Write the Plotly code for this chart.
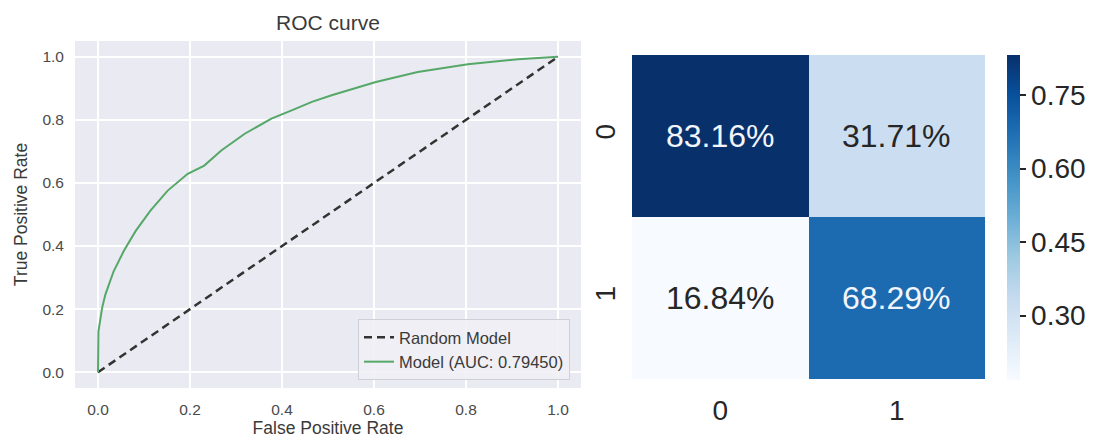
import plotly.graph_objects as go

# ROC curve points (false positive rate vs. true positive rate)
fpr = [0.0, 0.0, 0.001, 0.009, 0.016, 0.034, 0.056, 0.082, 0.114, 0.151, 0.195,
       0.231, 0.268, 0.319, 0.377, 0.421, 0.465, 0.508, 0.604, 0.695, 0.804, 0.913, 1.0]
tpr = [0.0, 0.06, 0.13, 0.204, 0.246, 0.32, 0.384, 0.448, 0.512, 0.575, 0.629,
       0.655, 0.703, 0.756, 0.804, 0.830, 0.857, 0.878, 0.920, 0.952, 0.976, 0.992, 1.0]
chance_x = [0.0, 1.0]
chance_y = [0.0, 1.0]
auc_label = "Model (AUC: 0.79450)"

# Normalised confusion matrix (rows: 0, 1; columns: 0, 1)
cm_labels = ["0", "1"]
cm_values = [[0.8316, 0.3171],
             [0.1684, 0.6829]]
cbar_ticks = [0.30, 0.45, 0.60, 0.75]

blues = ['rgb(247,251,255)', 'rgb(222,235,247)', 'rgb(198,219,239)', 'rgb(158,202,225)',
         'rgb(107,174,214)', 'rgb(66,146,198)', 'rgb(33,113,181)', 'rgb(8,81,156)',
         'rgb(8,48,107)']
blues_scale = [[i / (len(blues) - 1), c] for i, c in enumerate(blues)]

FONT = "Liberation Sans, Arial, sans-serif"
W, H = 1104, 443

fig = go.Figure()

fig.add_trace(go.Scatter(
    x=chance_x, y=chance_y, mode="lines", name="Random Model",
    line=dict(color="#333333", width=2.5, dash="8px,5px"),
    xaxis="x", yaxis="y"))
fig.add_trace(go.Scatter(
    x=fpr, y=tpr, mode="lines", name=auc_label,
    line=dict(color="#55A868", width=2),
    xaxis="x", yaxis="y"))

# cell annotations: light text on dark cells, dark text on light cells
zmin = min(min(r) for r in cm_values)
zmax = max(max(r) for r in cm_values)
text_colors = []
for row in cm_values:
    for v in row:
        frac = (v - zmin) / (zmax - zmin)
        text_colors.append("#f2f6fc" if frac > 0.5 else "#262626")

fig.add_trace(go.Heatmap(
    z=cm_values, x=cm_labels, y=cm_labels,
    colorscale=blues_scale, zmin=zmin, zmax=zmax,
    showscale=True, xaxis="x2", yaxis="y2",
    colorbar=dict(
        x=1007 / W, xanchor="left", xpad=0, ypad=0, thickness=13,
        y=1 - 380 / H, yanchor="bottom", len=(380 - 55) / H, lenmode="fraction",
        outlinewidth=0, tickvals=cbar_ticks, tickformat=".2f",
        tickprefix=" ",
        ticks="outside", ticklen=6, tickwidth=1.5, tickcolor="#262626",
        tickfont=dict(family=FONT, size=28, color="#262626")),
    hoverinfo="skip"))

annotations = []
k = 0
for i, r in enumerate(cm_labels):
    for j, c in enumerate(cm_labels):
        annotations.append(dict(
            x=c, y=r, xref="x2", yref="y2", showarrow=False,
            text=f"{cm_values[i][j] * 100:.2f}%",
            font=dict(family=FONT, size=32, color=text_colors[k])))
        k += 1

annotations.append(dict(
    x=(75 + 581) / 2 / W, y=1 - 22 / H, xref="paper", yref="paper",
    text="ROC curve", showarrow=False, xanchor="center", yanchor="middle",
    font=dict(family=FONT, size=21, color="#3a3a3a")))

fig.update_layout(
    width=W, height=H,
    margin=dict(l=0, r=0, t=0, b=0),
    paper_bgcolor="white",
    plot_bgcolor="#EAEAF2",
    font=dict(family=FONT, color="#3a3a3a"),
    showlegend=True,
    legend=dict(
        x=570 / W, y=1 - 380 / H, xanchor="right", yanchor="bottom",
        bgcolor="rgba(240,240,245,0.9)", bordercolor="#cfcfd6", borderwidth=1,
        font=dict(family=FONT, size=16.5, color="#3a3a3a"),
        tracegroupgap=0),
    xaxis=dict(
        domain=[75 / W, 581 / W], anchor="y", range=[-0.05, 1.05],
        tickvals=[0, 0.2, 0.4, 0.6, 0.8, 1.0], tickformat=".1f",
        showgrid=True, gridcolor="white", gridwidth=1.6, zeroline=False,
        showline=False, ticks="", ticklabelstandoff=10,
        tickfont=dict(size=15.5, color="#4a4a4a"),
        title=dict(text="False Positive Rate", standoff=3,
                   font=dict(size=17.5, color="#3a3a3a"))),
    yaxis=dict(
        domain=[1 - 388 / H, 1 - 41 / H], anchor="x", range=[-0.05, 1.05],
        tickvals=[0, 0.2, 0.4, 0.6, 0.8, 1.0], tickformat=".1f",
        showgrid=True, gridcolor="white", gridwidth=1.6, zeroline=False,
        showline=False, ticks="", ticklabelstandoff=10,
        tickfont=dict(size=15.5, color="#4a4a4a"),
        title=dict(text="True Positive Rate", standoff=10,
                   font=dict(size=17.5, color="#3a3a3a"))),
    xaxis2=dict(
        domain=[632 / W, 985 / W], anchor="y2", type="category",
        showgrid=False, zeroline=False, showline=False, ticks="",
        ticklabelstandoff=12,
        tickfont=dict(size=28, color="#262626")),
    yaxis2=dict(
        domain=[1 - 379 / H, 1 - 55 / H], anchor="x2", type="category",
        autorange="reversed",
        showgrid=False, zeroline=False, showline=False, ticks="",
        tickangle=-90, ticklabelstandoff=10,
        tickfont=dict(size=28, color="#262626")),
    annotations=annotations,
)

fig.write_html("out.html")
